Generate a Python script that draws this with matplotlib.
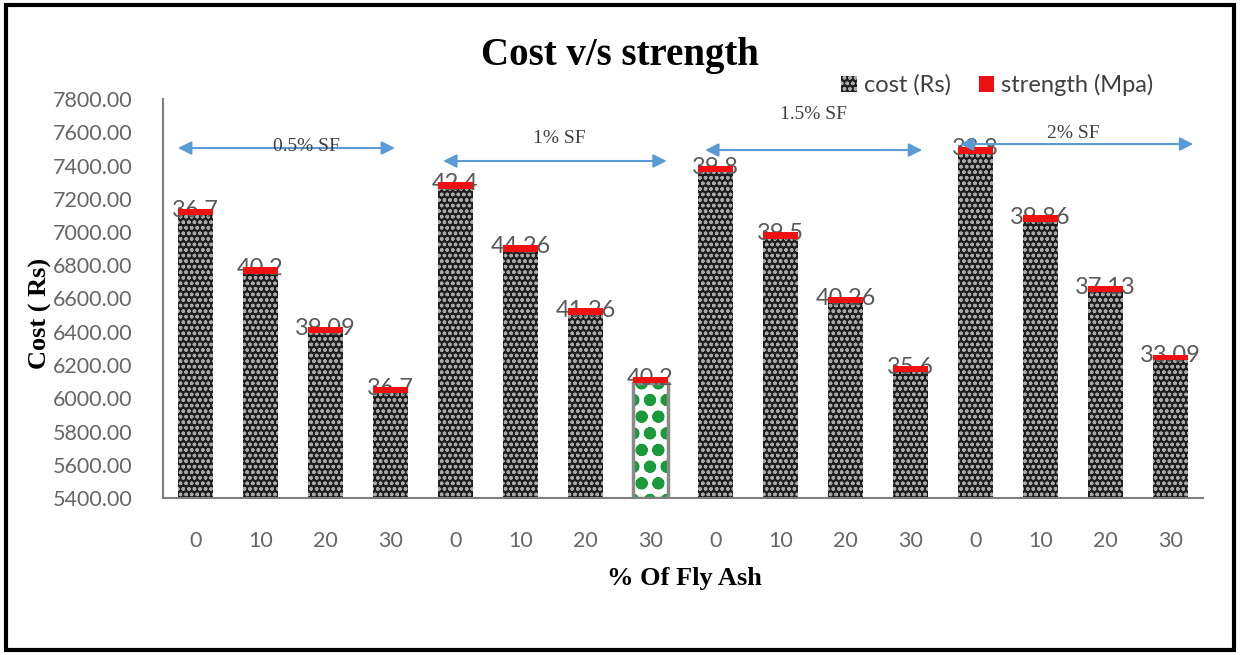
import matplotlib
matplotlib.use("Agg")
import matplotlib.pyplot as plt
from matplotlib.patches import Rectangle, Patch

# ---- data ----
fly_ash_labels = ["0", "10", "20", "30"] * 4
cost = [7100, 6750, 6390, 6030,
        7260, 6880, 6500, 6090,
        7360, 6960, 6570, 6160,
        7470, 7060, 6640, 6230]
strength = [36.7, 40.2, 39.09, 36.7,
            42.4, 44.26, 41.26, 40.2,
            39.8, 39.5, 40.26, 35.6,
            38.8, 39.86, 37.13, 33.09]
groups = ["0.5% SF", "1% SF", "1.5% SF", "2% SF"]
highlight = 7
yticks = [5400, 5600, 5800, 6000, 6200, 6400, 6600, 6800, 7000, 7200, 7400, 7600, 7800]

# ---- figure ----
W, H = 1240, 655
fig = plt.figure(figsize=(W / 100, H / 100), dpi=100)
ax = fig.add_axes([163 / W, 1 - 498 / H, (1203 - 163) / W, (498 - 99) / H])

x = list(range(len(cost)))
bw = 0.55
plt.rcParams['hatch.linewidth'] = 1.0
bars = ax.bar(x, cost, width=bw, color='#1e1e1e', edgecolor='#a8a8a8',
              hatch='ooo', linewidth=0, zorder=2)
# highlighted bar
hb = bars[highlight]
hb.set_facecolor('white')
hb.set_edgecolor('#1a9a3a')
hb.set_hatch('o')
try:
    hb.set_hatch_linewidth(4)
except Exception:
    pass
ax.bar([highlight], [cost[highlight] - 5400], bottom=5400, width=bw,
       facecolor='none', edgecolor='#8a8a8a', linewidth=2.5, zorder=2.2)

red = ax.bar(x, strength, bottom=cost, width=bw, color='#ee1111',
             linewidth=0, zorder=3)

for i in x:
    ax.text(i, cost[i] + strength[i] / 2 + 10, f"{strength[i]:g}",
            ha='center', va='center', fontsize=17, color='#595959',
            family='Lato', zorder=2.5)

ax.set_ylim(5400, 7800)
ax.set_xlim(-0.5, len(cost) - 0.5)
ax.set_yticks(yticks)
ax.set_yticklabels([f"{v:.2f}" for v in yticks])
ax.set_xticks(x)
ax.set_xticklabels(fly_ash_labels)
ax.tick_params(axis='both', length=0, labelsize=15.5, labelcolor='#666666')
ax.tick_params(axis='y', pad=22)
ax.tick_params(axis='x', pad=24)
for lab in ax.get_xticklabels() + ax.get_yticklabels():
    lab.set_family('Lato')
for s in ['top', 'right']:
    ax.spines[s].set_visible(False)
for s in ['left', 'bottom']:
    ax.spines[s].set_color('#7f7f7f')
    ax.spines[s].set_linewidth(1.5)

# group arrows and labels
arrow_x = [(-0.27, 3.07), (3.81, 7.25), (7.84, 11.18), (11.76, 15.35)]
arrow_y = [7505, 7427, 7493, 7529]
label_y = [7515, 7565, 7704, 7595]
label_x = [1.7, 5.6, 9.5, 13.5]
for g, (x0, x1), ay, lx, ly in zip(groups, arrow_x, arrow_y, label_x, label_y):
    ax.annotate('', xy=(x1, ay), xytext=(x0, ay),
                arrowprops=dict(arrowstyle='<|-|>', color='#5b9bd5', lw=1.5,
                                mutation_scale=20, shrinkA=0, shrinkB=0),
                zorder=4, annotation_clip=False)
    ax.text(lx, ly, g, ha='center', va='center', fontsize=14,
            family='Liberation Serif', color='#404040', zorder=4)

fig.text(620 / W, 1 - 56 / H, "Cost v/s strength", ha='center', va='center',
         fontsize=28, fontweight='bold', family='Liberation Serif')
fig.text(40 / W, 1 - 313 / H, "Cost ( Rs)", ha='center', va='center',
         rotation=90, fontsize=19, fontweight='bold', family='Liberation Serif')
fig.text(684 / W, 1 - 578 / H, "% Of Fly Ash", ha='center', va='center',
         fontsize=19, fontweight='bold', family='Liberation Serif')

handles = [Patch(facecolor='#1e1e1e', edgecolor='#a8a8a8', hatch='ooo', linewidth=0),
           Patch(facecolor='#ee1111', linewidth=0)]
fig.legend(handles, ["cost (Rs)", "strength (Mpa)"], loc='center left',
           bbox_to_anchor=(820 / W, 1 - 85 / H), ncol=2, frameon=False,
           handlelength=0.65, handleheight=0.65, handletextpad=0.3,
           columnspacing=1.2, prop={'family': 'Lato', 'size': 17},
           labelcolor='#404040')

fig.patches.append(Rectangle((6 / W, 5 / H), (1234 - 6) / W, (650 - 5) / H,
                             transform=fig.transFigure, fill=False,
                             edgecolor='black', linewidth=3))

fig.savefig("out.png", dpi=100)
